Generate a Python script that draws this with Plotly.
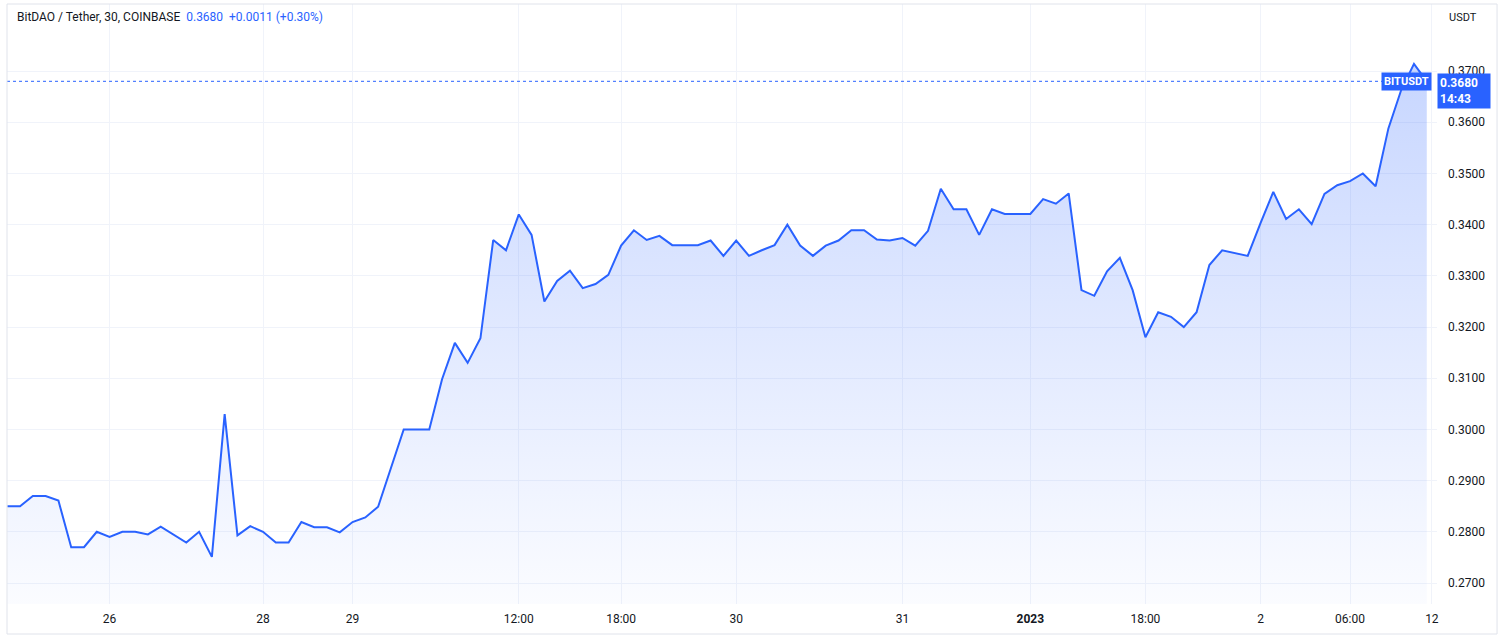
import plotly.graph_objects as go

# BITUSDT 30-min closes (index-based bars)
prices = [
    0.2850, 0.2850, 0.2870, 0.2870, 0.2861, 0.2770, 0.2770, 0.2800, 0.2790, 0.2800,
    0.2800, 0.2795, 0.2810, 0.2794, 0.2779, 0.2800, 0.2751, 0.3030, 0.2793, 0.2811,
    0.2800, 0.2779, 0.2779, 0.2819, 0.2809, 0.2809, 0.2799, 0.2819, 0.2828, 0.2849,
    0.2925, 0.3000, 0.3000, 0.3000, 0.3098, 0.3169, 0.3130, 0.3178, 0.3370, 0.3350,
    0.3420, 0.3380, 0.3250, 0.3290, 0.3310, 0.3276, 0.3284, 0.3302, 0.3359, 0.3389,
    0.3370, 0.3378, 0.3360, 0.3360, 0.3360, 0.3369, 0.3339, 0.3369, 0.3339, 0.3350,
    0.3360, 0.3400, 0.3359, 0.3339, 0.3359, 0.3369, 0.3389, 0.3389, 0.3371, 0.3369,
    0.3374, 0.3359, 0.3388, 0.3470, 0.3430, 0.3430, 0.3380, 0.3430, 0.3421, 0.3421,
    0.3421, 0.3450, 0.3441, 0.3461, 0.3272, 0.3261, 0.3309, 0.3335, 0.3272, 0.3180,
    0.3229, 0.3220, 0.3200, 0.3229, 0.3321, 0.3350, 0.3344, 0.3339, 0.3403, 0.3464,
    0.3411, 0.3430, 0.3401, 0.3460, 0.3477, 0.3485, 0.3500, 0.3475, 0.3588, 0.3663,
    0.3714, 0.3680,
]
bar_index = list(range(len(prices)))

tick_idx = [8, 20, 27, 40, 48, 57, 70, 80, 89, 98, 105, 111.4]
tick_text = ["26", "28", "29", "12:00", "18:00", "30", "31", "<b>2023</b>",
             "18:00", "2", "06:00", "12"]

y_ticks = [0.27, 0.28, 0.29, 0.30, 0.31, 0.32, 0.33, 0.34, 0.35, 0.36, 0.37]

last_price = 0.3680
title_main = "BitDAO / Tether, 30, COINBASE"
title_quote = "0.3680\u00a0\u00a0+0.0011 (+0.30%)"
symbol = "BITUSDT"
countdown = "14:43"

BLUE = "#2962FF"
TEXT = "#131722"
GRID = "#f0f3fa"
FONT = "Roboto, Liberation Sans, sans-serif"

fig = go.Figure()
fig.add_trace(go.Scatter(
    x=bar_index, y=prices, mode="lines",
    line=dict(color=BLUE, width=2),
    fill="tozeroy",
    fillgradient=dict(
        type="vertical",
        start=0.2659, stop=0.3714,
        colorscale=[[0, "rgba(41,98,255,0.02)"], [1, "rgba(41,98,255,0.26)"]],
    ),
    hoverinfo="skip", showlegend=False,
))

# dotted last-price line
fig.add_shape(type="line", xref="paper", yref="y", x0=0, x1=0.962,
              y0=last_price, y1=last_price,
              line=dict(color=BLUE, width=1, dash="dot"))

# outer frame
fig.add_shape(type="rect", xref="paper", yref="paper",
              x0=0, x1=1.042, y0=-0.05, y1=1.0,
              line=dict(color="#e0e3eb", width=1), layer="above")

fig.add_annotation(xref="paper", yref="paper", x=0.0055, y=0.978,
                   xanchor="left", yanchor="middle", showarrow=False,
                   text=title_main + "\u00a0\u00a0<span style='color:" + BLUE + "'>" + title_quote + "</span>",
                   font=dict(family=FONT, size=12, color=TEXT))
fig.add_annotation(xref="paper", yref="paper", x=1.007, y=0.978,
                   xanchor="left", yanchor="middle", showarrow=False,
                   text="USDT", font=dict(family=FONT, size=11, color=TEXT))
fig.add_annotation(xref="paper", yref="y", x=0.9965, y=last_price,
                   xanchor="right", yanchor="middle", showarrow=False,
                   text="<b>" + symbol + "</b>", bgcolor=BLUE, borderpad=2,
                   font=dict(family=FONT, size=11, color="white"))
fig.add_annotation(xref="paper", yref="y", x=1.0, y=last_price,
                   xanchor="left", yanchor="top", yshift=8, showarrow=False,
                   text="<b>" + f"{last_price:.4f}" + "</b><br><b>" + countdown + "</b>",
                   align="left", bgcolor=BLUE, borderpad=2, width=48,
                   font=dict(family=FONT, size=12, color="white"))

fig.update_layout(
    width=1500, height=642,
    margin=dict(l=7, r=63, t=4, b=38),
    paper_bgcolor="white", plot_bgcolor="white",
    font=dict(family=FONT, size=12, color=TEXT),
    xaxis=dict(
        range=[-0.02, 111.8], tickmode="array", tickvals=tick_idx, ticktext=tick_text,
        showgrid=True, gridcolor=GRID, gridwidth=1, zeroline=False,
        showline=False, ticks="", ticklabelstandoff=6,
        tickfont=dict(family=FONT, size=12, color=TEXT),
    ),
    yaxis=dict(
        side="right", range=[0.2659, 0.3831], tickmode="array", tickvals=y_ticks,
        ticktext=[f"{v:.4f}" for v in y_ticks],
        showgrid=True, gridcolor=GRID, gridwidth=1, zeroline=False,
        showline=False, ticks="", ticklabelstandoff=10,
        tickfont=dict(family=FONT, size=12, color=TEXT),
    ),
)

fig.write_html("out.html", config={"displayModeBar": False},
               post_script="document.body.style.margin='0';document.body.style.padding='0';")
